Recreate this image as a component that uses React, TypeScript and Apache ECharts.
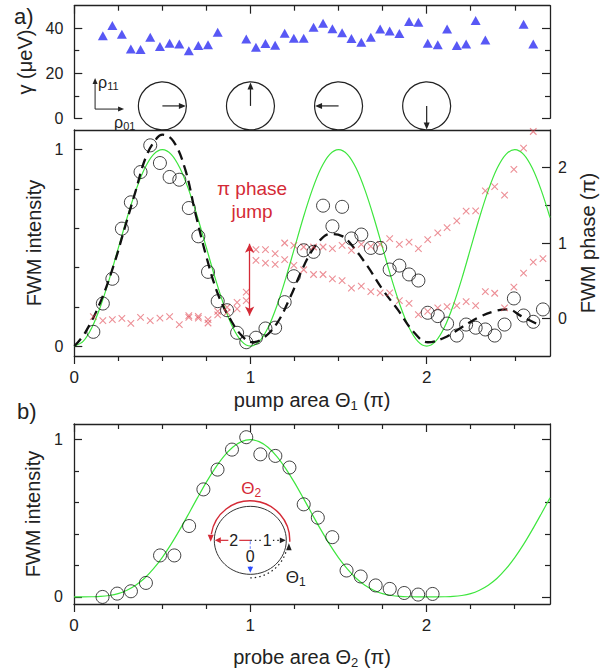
import React, { useEffect, useRef } from 'react';
import * as echarts from 'echarts';

const FONT = "'Liberation Sans', Arial, Helvetica, sans-serif";
const INK = '#222222';
const GREEN = '#3ee63e';
const RED = '#d42a36';
const CROSS = 'rgba(222,60,72,0.72)';
const BLUE = '#2e2ef2';

// ---------- panel a) : pump area positions (units of π) ----------
const theta1 = [0.108, 0.162, 0.216, 0.27, 0.321, 0.376, 0.431, 0.486, 0.541, 0.596, 0.65, 0.704, 0.759, 0.814, 0.867, 0.924, 0.976, 1.031, 1.085, 1.14, 1.194, 1.246, 1.302, 1.358, 1.412, 1.465, 1.52, 1.573, 1.629, 1.683, 1.736, 1.79, 1.845, 1.9, 1.953, 2.006, 2.063, 2.116, 2.171, 2.224, 2.278, 2.333, 2.386, 2.442, 2.495, 2.55, 2.605, 2.66];

// dephasing γ (μeV)
const gamma = [null, 36.7, 41.2, 37.3, 30.8, 30.5, 36.0, 31.9, 33.3, 33.0, 30.0, 32.3, 32.7, 38.2, null, null, 35.2, 31.6, 33.2, 32.4, 37.8, 35.5, 35.5, 40.4, 42.2, 39.8, 38.0, 35.4, 33.8, 36.0, 39.6, 38.8, 37.6, 43.0, 42.7, 33.3, 32.7, 39.6, 32.3, 33.0, 43.4, 34.8, null, null, null, 41.8, 33.0, null];

// FWM intensity vs pump area
const intensity1 = [0.073, 0.217, 0.343, 0.598, 0.732, 0.886, 1.022, 0.932, 0.861, 0.847, 0.703, 0.559, 0.378, 0.229, 0.183, 0.068, 0.02, 0.043, 0.09, 0.094, 0.224, 0.356, 0.488, 0.48, 0.715, 0.61, 0.709, 0.548, 0.568, 0.5, 0.5, 0.39, 0.41, 0.365, 0.334, 0.17, 0.153, 0.115, 0.054, 0.11, 0.094, 0.085, 0.054, 0.11, 0.243, 0.156, 0.124, 0.187];

// FWM phase (units of π), two branches
const phaseA = [0.023, -0.031, -0.017, 0.0, -0.067, 0.013, -0.031, 0.004, 0.023, -0.084, 0.036, 0.027, -0.017, 0.045, 0.08, 0.125, 0.236, 0.912, 0.912, 0.858, 1.0, 0.969, 0.947, 0.947, 0.947, 0.925, 0.969, 0.902, 0.982, 0.956, 0.982, 1.058, 0.982, 1.013, 0.925, 1.045, 1.133, 1.205, 1.293, 1.422, 1.427, 1.693, 1.747, 1.636, 1.978, 2.258, 2.48, null];
const phaseB = [null, null, null, null, null, null, null, null, null, null, 0.013, 0.004, -0.062, 0.093, 0.147, 0.213, 0.347, 0.769, 0.733, 0.716, 0.778, 0.702, 0.645, 0.582, 0.582, 0.525, 0.502, 0.4, 0.427, 0.356, 0.338, 0.338, 0.236, 0.2, 0.049, 0.093, 0.138, 0.156, 0.169, 0.222, 0.169, 0.356, 0.333, 0.138, 0.413, 0.6, 0.747, 0.792];

// model curves
const curveTheta = [0, 0.05, 0.1, 0.15, 0.2, 0.25, 0.3, 0.35, 0.4, 0.45, 0.5, 0.55, 0.6, 0.65, 0.7, 0.75, 0.8, 0.85, 0.9, 0.95, 1, 1.05, 1.1, 1.15, 1.2, 1.25, 1.3, 1.35, 1.4, 1.45, 1.5, 1.55, 1.6, 1.65, 1.7, 1.75, 1.8, 1.85, 1.9, 1.95, 2, 2.05, 2.1, 2.15, 2.2, 2.25, 2.3, 2.35, 2.4, 2.45, 2.5, 2.55, 2.6, 2.65, 2.7];
const green1 = [0, 0.024, 0.095, 0.206, 0.345, 0.5, 0.655, 0.794, 0.905, 0.976, 1, 0.976, 0.905, 0.794, 0.655, 0.5, 0.345, 0.206, 0.095, 0.024,
  0, 0.024, 0.095, 0.206, 0.345, 0.5, 0.655, 0.794, 0.905, 0.976, 1, 0.976, 0.905, 0.794, 0.655, 0.5, 0.345, 0.206, 0.095, 0.024,
  0, 0.024, 0.095, 0.206, 0.345, 0.5, 0.655, 0.794, 0.905, 0.976, 1, 0.976, 0.905, 0.794, 0.655];
const green2 = [0, 0, 0.001, 0.003, 0.009, 0.021, 0.043, 0.075, 0.119, 0.178, 0.25, 0.334, 0.428, 0.528, 0.63, 0.729, 0.818, 0.894, 0.952, 0.988, 1,
  0.988, 0.952, 0.894, 0.818, 0.729, 0.63, 0.528, 0.428, 0.334, 0.25, 0.178, 0.119, 0.075, 0.043, 0.021, 0.009, 0.003, 0.001, 0, 0,
  0, 0.001, 0.003, 0.009, 0.021, 0.043, 0.075, 0.119, 0.178, 0.25, 0.334, 0.428, 0.528, 0.63];
const dashedTheta = [0, 0.061, 0.146, 0.222, 0.289, 0.345, 0.408, 0.469, 0.5, 0.563, 0.63, 0.687, 0.754, 0.82, 0.886, 0.953, 1.01, 1.076, 1.152, 1.228, 1.285, 1.341, 1.398, 1.45, 1.52, 1.58, 1.664, 1.75, 1.835, 1.93, 2.006, 2.1, 2.195, 2.29, 2.385, 2.46, 2.537, 2.622];
const dashedValue = [0, 0.068, 0.22, 0.407, 0.61, 0.78, 0.966, 1.059, 1.076, 1.042, 0.898, 0.678, 0.441, 0.254, 0.136, 0.051, 0.02, 0.043, 0.119, 0.254, 0.373, 0.474, 0.542, 0.57, 0.56, 0.508, 0.407, 0.288, 0.187, 0.068, 0.02, 0.043, 0.094, 0.144, 0.178, 0.187, 0.153, 0.115];

// Bloch-vector sketches (pump area, height on γ axis, arrow angle in degrees)
const blochTheta = [0.5, 1, 1.5, 2];
const blochLevel = 5.5;
const blochAngle = [0, 90, 180, 270];
const rhoOrigin = [0.118, 4.1];

// π phase jump arrow (pump area, phase from/to)
const jumpTheta = 0.995;
const jumpPhase = [0.99, 0.036];

// ---------- panel b) : probe area ----------
const theta2 = [0.162, 0.245, 0.323, 0.408, 0.488, 0.569, 0.653, 0.734, 0.814, 0.896, 0.977, 1.057, 1.142, 1.222, 1.303, 1.383, 1.465, 1.546, 1.626, 1.711, 1.791, 1.873, 1.952, 2.034];
const intensity2 = [0.0, 0.021, 0.036, 0.089, 0.264, 0.264, 0.451, 0.684, 0.81, 0.937, 1.016, 0.907, 0.897, 0.823, 0.589, 0.504, 0.38, 0.168, 0.13, 0.073, 0.051, 0.025, 0.015, 0.019];
const insetCenter = [1.0, 0.36];

// ticks
const xTickMajor = [0, 1, 2];
const xTickMinor = [0.25, 0.5, 0.75, 1.25, 1.5, 1.75, 2.25, 2.5];
const xLabels = [0, 1, 2];
const gammaMajor = [0, 20, 40];
const gammaMinor = [10, 30];
const intMajor = [0, 1];
const intMinor = [0.2, 0.4, 0.6, 0.8];
const phaseMajor = [0, 1, 2];
const phaseMinor = [0.5, 1.5];

function axis(gridIndex: number, position: string, min: number, max: number, o: any = {}) {
  const a: any = {
    type: 'value', gridIndex, position, min, max,
    splitLine: { show: false },
    axisLine: { show: !!o.line, onZero: false, lineStyle: { color: INK, width: 1.3 } },
    axisTick: o.ticks
      ? { show: true, inside: !!o.inside, length: o.len, customValues: o.ticks, lineStyle: { color: INK, width: 1.2 } }
      : { show: false },
    axisLabel: o.labels
      ? { show: true, customValues: o.labels, fontSize: o.labelSize || 16, fontFamily: FONT, color: INK, margin: o.margin }
      : { show: false },
  };
  if (o.name) {
    a.name = o.name;
    a.nameLocation = 'middle';
    a.nameGap = o.nameGap;
    if (o.rotate != null) a.nameRotate = o.rotate;
    a.nameTextStyle = {
      fontSize: 20, fontFamily: FONT, color: INK,
      rich: { s: { fontSize: 13, fontFamily: FONT, color: INK, padding: [11, 0, 0, 0] } },
    };
  }
  return a;
}

function head(tx: number, ty: number, dx: number, dy: number, len: number, half: number, color: string) {
  const bx = tx - dx * len, by = ty - dy * len;
  return {
    type: 'polygon',
    shape: { points: [[tx, ty], [bx - dy * half, by + dx * half], [bx + dy * half, by - dx * half]] },
    style: { fill: color },
  };
}

function txt(text: string, x: number, y: number, o: any = {}) {
  return {
    type: 'text',
    style: {
      text, x, y, fill: o.fill || INK, fontSize: o.size || 16, fontFamily: FONT,
      align: o.align || 'center', textAlign: o.align || 'center',
      verticalAlign: 'middle', textVerticalAlign: 'middle',
      backgroundColor: o.bg, padding: o.bg ? [0, 1] : undefined,
      rich: o.rich,
    },
  };
}

const renderBloch = (params: any, api: any) => {
  const c = api.coord([api.value(0), api.value(1)]);
  const a = (api.value(2) * Math.PI) / 180;
  const r = 24;
  const dx = Math.cos(a), dy = -Math.sin(a);
  const tx = c[0] + dx * (r - 0.5), ty = c[1] + dy * (r - 0.5);
  return {
    type: 'group',
    children: [
      { type: 'circle', shape: { cx: c[0], cy: c[1], r }, style: { fill: 'none', stroke: INK, lineWidth: 1.2 } },
      { type: 'line', shape: { x1: c[0], y1: c[1], x2: tx - dx * 6, y2: ty - dy * 6 }, style: { stroke: INK, lineWidth: 1.2 } },
      head(tx, ty, dx, dy, 7, 3, INK),
    ],
  };
};

const renderRho = (params: any, api: any) => {
  const [ox, oy] = api.coord([api.value(0), api.value(1)]);
  const rich = {
    a: { fontSize: 16, fontFamily: FONT, fill: INK },
    s: { fontSize: 11, fontFamily: FONT, fill: INK, padding: [7, 0, 0, 0] },
  };
  return {
    type: 'group',
    children: [
      { type: 'line', shape: { x1: ox, y1: oy, x2: ox, y2: oy - 25 }, style: { stroke: INK, lineWidth: 1 } },
      head(ox, oy - 31, 0, -1, 6, 2.5, INK),
      { type: 'line', shape: { x1: ox, y1: oy, x2: ox + 23, y2: oy }, style: { stroke: INK, lineWidth: 1 } },
      head(ox + 29, oy, 1, 0, 6, 2.5, INK),
      txt('{a|ρ}{s|11}', ox + 3, oy - 27, { align: 'left', rich }),
      txt('{a|ρ}{s|01}', ox + 19, oy + 13, { align: 'left', rich }),
    ],
  };
};

const renderInset = (params: any, api: any) => {
  const [cx, cy] = api.coord([api.value(0), api.value(1)]);
  const richRed = {
    a: { fontSize: 17, fontFamily: FONT, fill: RED },
    s: { fontSize: 12, fontFamily: FONT, fill: RED, padding: [9, 0, 0, 0] },
  };
  const richInk = {
    a: { fontSize: 17, fontFamily: FONT, fill: INK },
    s: { fontSize: 12, fontFamily: FONT, fill: INK, padding: [9, 0, 0, 0] },
  };
  return {
    type: 'group',
    children: [
      { type: 'ellipse', shape: { cx, cy, rx: 36, ry: 34 }, style: { fill: 'none', stroke: '#333', lineWidth: 1 } },
      { type: 'arc', shape: { cx, cy, r: 39.5, startAngle: 0.035, endAngle: -Math.PI + 0.16, clockwise: false }, style: { fill: 'none', stroke: RED, lineWidth: 1.4 } },
      head(cx - 39.6, cy + 1.5, 0, 1, 7, 3, RED),
      { type: 'line', shape: { x1: cx, y1: cy, x2: cx - 30, y2: cy }, style: { stroke: RED, lineWidth: 1.2 } },
      head(cx - 35.5, cy, -1, 0, 6, 3, RED),
      { type: 'line', shape: { x1: cx, y1: cy, x2: cx + 30, y2: cy }, style: { stroke: INK, lineWidth: 1.2, lineDash: [1.5, 3] } },
      head(cx + 35.5, cy, 1, 0, 6, 2.8, INK),
      { type: 'line', shape: { x1: cx, y1: cy + 1, x2: cx, y2: cy + 27 }, style: { stroke: '#7e93ff', lineWidth: 1.2, lineDash: [3, 2] } },
      head(cx, cy + 32.5, 0, 1, 6, 2.8, '#2d4dff'),
      { type: 'arc', shape: { cx, cy, r: 37.5, startAngle: Math.PI / 2, endAngle: 0.3, clockwise: false }, style: { fill: 'none', stroke: INK, lineWidth: 1.2, lineDash: [1.5, 3] } },
      head(cx + 38.6, cy + 3, 0, -1, 7, 2.8, INK),
      txt('2', cx - 16.5, cy, { bg: '#fff' }),
      txt('1', cx + 17, cy, { bg: '#fff' }),
      txt('0', cx, cy + 16.5, { bg: '#fff' }),
      txt('{a|Θ}{s|2}', cx + 1, cy - 52, { rich: richRed }),
      txt('{a|Θ}{s|1}', cx + 35.5, cy + 37, { align: 'left', rich: richInk }),
    ],
  };
};

const pairs = (xs: number[], ys: (number | null)[]) =>
  xs.map((x, i) => (ys[i] == null ? null : [x, ys[i]])).filter((p) => p !== null);

const crossSymbol = 'path://M0 0L10 10M10 0L0 10';

const option: any = {
  animation: false,
  backgroundColor: '#ffffff',
  textStyle: { fontFamily: FONT },
  grid: [
    { left: 74.3, top: 5.7, width: 475.7, height: 112.6, outerBoundsMode: 'none' },
    { left: 74.3, top: 130, width: 475.7, height: 226, outerBoundsMode: 'none' },
    { left: 74, top: 424, width: 476, height: 180, outerBoundsMode: 'none' },
  ],
  xAxis: [
    axis(0, 'top', 0, 2.7, { line: true, ticks: xTickMajor, inside: true, len: 8 }),
    axis(0, 'top', 0, 2.7, { ticks: xTickMinor, inside: true, len: 5 }),
    axis(1, 'bottom', 0, 2.7, { line: true, ticks: xTickMajor, len: 8, labels: xLabels, labelSize: 17, margin: 13, name: 'pump area Θ{s|1} (π)', nameGap: 32 }),
    axis(1, 'bottom', 0, 2.7, { ticks: xTickMinor, len: 5 }),
    axis(1, 'top', 0, 2.7, { line: true }),
    axis(2, 'bottom', 0, 2.7, { line: true, ticks: xTickMajor, len: 8, labels: xLabels, labelSize: 17, margin: 12.5, name: 'probe area Θ{s|2} (π)', nameGap: 41 }),
    axis(2, 'bottom', 0, 2.7, { ticks: xTickMinor, len: 5 }),
    axis(2, 'top', 0, 2.7, { line: true, ticks: xTickMajor, inside: true, len: 8 }),
    axis(2, 'top', 0, 2.7, { ticks: xTickMinor, inside: true, len: 5 }),
  ],
  yAxis: [
    axis(0, 'left', 0, 50, { line: true, ticks: gammaMajor, inside: true, len: 8, labels: gammaMajor, margin: 11, name: 'γ (μeV)', nameGap: 35, rotate: 90 }),
    axis(0, 'left', 0, 50, { ticks: gammaMinor, inside: true, len: 5 }),
    axis(0, 'right', 0, 50, { line: true, ticks: gammaMajor, inside: true, len: 8 }),
    axis(0, 'right', 0, 50, { ticks: gammaMinor, inside: true, len: 5 }),
    axis(1, 'left', -0.05, 1.1, { line: true, ticks: intMajor, inside: true, len: 8, labels: intMajor, margin: 11, name: 'FWM intensity', nameGap: 30, rotate: 90 }),
    axis(1, 'left', -0.05, 1.1, { ticks: intMinor, inside: true, len: 5 }),
    axis(1, 'right', -0.5, 2.5, { line: true, ticks: phaseMajor, inside: true, len: 8, labels: phaseMajor, margin: 8, name: 'FWM phase (π)', nameGap: 28, rotate: 90 }),
    axis(1, 'right', -0.5, 2.5, { ticks: phaseMinor, inside: true, len: 5 }),
    axis(2, 'left', -0.045, 1.1, { line: true, ticks: intMajor, inside: true, len: 8, labels: intMajor, margin: 11, name: 'FWM intensity', nameGap: 30, rotate: 90 }),
    axis(2, 'left', -0.045, 1.1, { ticks: intMinor, inside: true, len: 5 }),
    axis(2, 'right', -0.045, 1.1, { line: true, ticks: intMajor, inside: true, len: 8 }),
    axis(2, 'right', -0.045, 1.1, { ticks: intMinor, inside: true, len: 5 }),
  ],
  series: [
    {
      type: 'scatter', name: 'gamma', xAxisIndex: 0, yAxisIndex: 0, clip: false, z: 3,
      data: pairs(theta1, gamma), symbol: 'triangle', symbolSize: [10, 9], itemStyle: { color: BLUE },
    },
    {
      type: 'custom', name: 'bloch', xAxisIndex: 0, yAxisIndex: 0, z: 3,
      data: blochTheta.map((t, i) => [t, blochLevel, blochAngle[i]]),
      encode: { x: 0, y: 1 }, renderItem: renderBloch,
    },
    {
      type: 'custom', name: 'rho', xAxisIndex: 0, yAxisIndex: 0, z: 3,
      data: [rhoOrigin], encode: { x: 0, y: 1 }, renderItem: renderRho,
    },
    {
      type: 'line', name: 'model1', xAxisIndex: 2, yAxisIndex: 4, z: 2,
      data: pairs(curveTheta, green1), showSymbol: false, smooth: 0.3,
      lineStyle: { color: GREEN, width: 1.2 },
    },
    {
      type: 'line', name: 'damped', xAxisIndex: 2, yAxisIndex: 4, z: 2,
      data: pairs(dashedTheta, dashedValue), showSymbol: false, smooth: 0.4,
      lineStyle: { color: '#111', width: 2.3, type: [10, 6] },
    },
    {
      type: 'scatter', name: 'phaseA', xAxisIndex: 2, yAxisIndex: 6, clip: false, z: 3,
      data: pairs(theta1, phaseA), symbol: crossSymbol, symbolSize: 6.5,
      itemStyle: { color: 'rgba(0,0,0,0)', borderColor: CROSS, borderWidth: 1.1 },
      markLine: {
        silent: true, symbol: ['arrow', 'arrow'], symbolSize: [7, 9],
        label: { show: false }, lineStyle: { color: RED, width: 1.3, type: 'solid' },
        data: [[{ coord: [jumpTheta, jumpPhase[0]] }, { coord: [jumpTheta, jumpPhase[1]] }]],
      },
    },
    {
      type: 'scatter', name: 'phaseB', xAxisIndex: 2, yAxisIndex: 6, clip: false, z: 3,
      data: pairs(theta1, phaseB), symbol: crossSymbol, symbolSize: 6.5,
      itemStyle: { color: 'rgba(0,0,0,0)', borderColor: CROSS, borderWidth: 1.1 },
    },
    {
      type: 'scatter', name: 'intensity1', xAxisIndex: 2, yAxisIndex: 4, clip: false, z: 4,
      data: pairs(theta1, intensity1), symbol: 'circle', symbolSize: 13,
      itemStyle: { color: 'rgba(0,0,0,0)', borderColor: '#111', borderWidth: 1 },
    },
    {
      type: 'line', name: 'model2', xAxisIndex: 5, yAxisIndex: 8, z: 2,
      data: pairs(curveTheta, green2), showSymbol: false, smooth: 0.3,
      lineStyle: { color: GREEN, width: 1.2 },
    },
    {
      type: 'scatter', name: 'intensity2', xAxisIndex: 5, yAxisIndex: 8, clip: false, z: 4,
      data: pairs(theta2, intensity2), symbol: 'circle', symbolSize: 13,
      itemStyle: { color: 'rgba(0,0,0,0)', borderColor: '#111', borderWidth: 1 },
    },
    {
      type: 'custom', name: 'inset', xAxisIndex: 5, yAxisIndex: 8, z: 5,
      data: [insetCenter], encode: { x: 0, y: 1 }, renderItem: renderInset,
    },
  ],
  graphic: [
    { type: 'text', left: 14, top: 5, style: { text: 'a)', fontSize: 22, fontFamily: FONT, fill: INK } },
    { type: 'text', left: 17, top: 400, style: { text: 'b)', fontSize: 22, fontFamily: FONT, fill: INK } },
    {
      type: 'text', x: 252, y: 200,
      style: {
        text: 'π phase\njump', fontSize: 19, fontFamily: FONT, fill: RED, lineHeight: 23,
        align: 'center', textAlign: 'center', verticalAlign: 'middle', textVerticalAlign: 'middle',
      },
    },
  ],
};

export default function App() {
  const ref = useRef<HTMLDivElement>(null);
  useEffect(() => {
    const chart = echarts.init(ref.current as HTMLDivElement, null, { renderer: 'svg' });
    chart.setOption(option);
    return () => chart.dispose();
  }, []);
  return (
    <div
      ref={ref}
      style={{ position: 'absolute', left: 0, top: 0, width: 611, height: 672, background: '#fff' }}
    />
  );
}
